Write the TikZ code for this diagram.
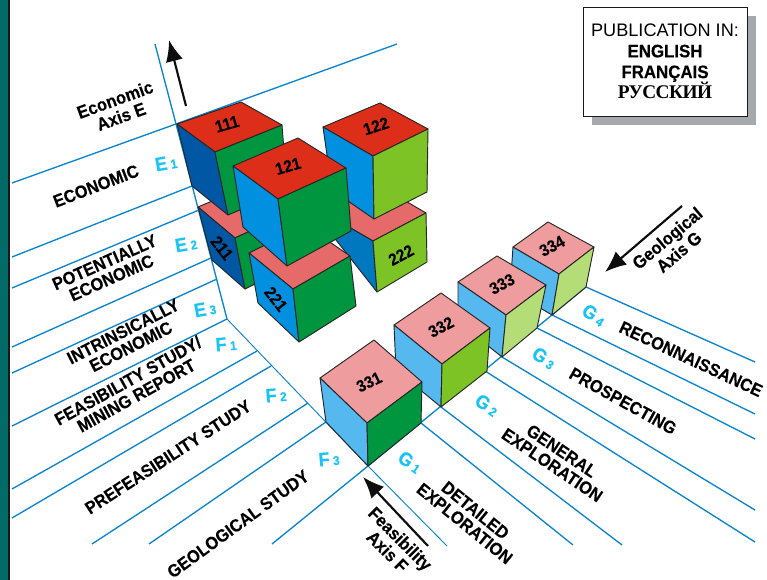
\documentclass[tikz,border=0pt]{standalone}
\usepackage{fontspec}
\setmainfont[BoldFeatures={FakeStretch=0.93,FakeBold=0.25}]{Liberation Sans}
\newfontfamily\rufont[LetterSpace=-3]{Liberation Serif}
\usetikzlibrary{arrows.meta,shadows}
\definecolor{teal}{HTML}{006B66}
\definecolor{gridblue}{HTML}{0A84D0}
\definecolor{labcyan}{HTML}{19C3F5}
\definecolor{redtop}{HTML}{DC2E18}
\definecolor{rosetop}{HTML}{E76A6A}
\definecolor{pinktop}{HTML}{EF9C9E}
\definecolor{deepside}{HTML}{0058A4}
\definecolor{midside}{HTML}{0078C0}
\definecolor{blueside}{HTML}{0090DF}
\definecolor{skyside}{HTML}{55B8EF}
\definecolor{greenside}{HTML}{009640}
\definecolor{limeside}{HTML}{7DC325}
\definecolor{paleside}{HTML}{B4DD78}
\definecolor{boxshadow}{HTML}{A6A9AB}
\tikzset{
 gridline/.style={gridblue,line width=1pt},
 axisline/.style={gridblue,line width=0.7pt},
 face/.style={draw=black!85,line width=0.7pt,line join=round},
 bigarrow/.style={black!95,line width=1.6pt,-{Latex[length=16pt,width=13pt]}},
 classlab/.style={font=\bfseries\fontsize{13.2}{12.8}\selectfont,align=center,black},
 axislab/.style={font=\bfseries\fontsize{13.4}{13.5}\selectfont,align=center,black},
 codelab/.style={font=\bfseries\fontsize{12.5}{12}\selectfont,black},
 levellab/.style={font=\fontsize{14.5}{14}\selectfont\bfseries,labcyan},
}
\newcommand{\lev}[2]{#1\kern2.5pt{\fontsize{9.5}{9}\selectfont #2}}
\begin{document}
\begin{tikzpicture}[x=0.75pt,y=-0.75pt]
 \useasboundingbox (0,0) rectangle (767,580);
 \fill [teal] (0,0) rectangle (8,580);
 \fill [black!90] (8,0) rectangle (10,580);
 % grid of the economic wall
 \draw [gridline] (155,44) -- (176,124);
 \draw [gridline] (12,183) -- (176,124) -- (397,44);
 \draw [gridline] (176,124) -- (227,319);
 \foreach \x/\y/\u/\v in {12/257/192/186, 12/288/199/210, 12/347/211/258, 12/373/217/279, 12/426/227/319}
  \draw [gridline] (\x,\y) -- (\u,\v);
 % grid of the feasibility wall
 \draw [axisline] (227,319) -- (368,466) -- (447,546);
 \foreach \x/\y/\u/\v in {12/489/257/351, 12/518/271/366, 92/544/308/403, 149/544/326/422, 272/544/368/466}
  \draw [gridline] (\x,\y) -- (\u,\v);
 % grid of the geological floor
 \draw [gridline] (368,466) -- (586,287);
 \foreach \x/\y/\u/\v in {586/287/755/362, 552/315/755/414, 537/328/755/439, 502/357/755/510, 485/371/755/542, 441/407/622/545, 421/423/573/545}
  \draw [gridline] (\x,\y) -- (\u,\v);
 % cube 211
 \draw [face,fill=rosetop] (198,207) -- (262,180) -- (300,208) -- (235,238) -- cycle;
 \draw [face,fill=deepside] (198,207) -- (235,238) -- (245,289) -- (212,260) -- cycle;
 \draw [face,fill=greenside] (235,238) -- (300,208) -- (303,260) -- (245,289) -- cycle;
 % cube 111
 \draw [face,fill=redtop] (177,124) -- (241,102) -- (282,125) -- (215,152) -- cycle;
 \draw [face,fill=deepside] (177,124) -- (215,152) -- (228,215) -- (192,186) -- cycle;
 \draw [face,fill=greenside] (215,152) -- (282,125) -- (287,190) -- (228,215) -- cycle;
 % cube 222
 \draw [face,fill=rosetop] (323,212) -- (380,186) -- (426,213) -- (373,241) -- cycle;
 \draw [face,fill=midside] (323,212) -- (373,241) -- (377,292) -- (336,240) -- cycle;
 \draw [face,fill=limeside] (373,241) -- (426,213) -- (427,262) -- (377,292) -- cycle;
 % cube 122
 \draw [face,fill=redtop] (323,127) -- (380,103) -- (428,129) -- (373,156) -- cycle;
 \draw [face,fill=blueside] (323,127) -- (373,156) -- (374,219) -- (332,190) -- cycle;
 \draw [face,fill=limeside] (373,156) -- (428,129) -- (427,192) -- (374,219) -- cycle;
 % cube 221
 \draw [face,fill=rosetop] (249,253) -- (305,225) -- (350,256) -- (293,289) -- cycle;
 \draw [face,fill=blueside] (249,253) -- (293,289) -- (299,342) -- (258,303) -- cycle;
 \draw [face,fill=greenside] (293,289) -- (350,256) -- (356,306) -- (299,342) -- cycle;
 % cube 121
 \draw [face,fill=redtop] (233,166) -- (298,138) -- (346,168) -- (278,199) -- cycle;
 \draw [face,fill=blueside] (233,166) -- (278,199) -- (287,266) -- (243,227) -- cycle;
 \draw [face,fill=greenside] (278,199) -- (346,168) -- (351,231) -- (287,266) -- cycle;
 % cube 334
 \draw [face,fill=pinktop] (513,247) -- (548,222) -- (594,247) -- (559,274) -- cycle;
 \draw [face,fill=skyside] (513,247) -- (559,274) -- (552,315) -- (510,290) -- cycle;
 \draw [face,fill=paleside] (559,274) -- (594,247) -- (586,287) -- (552,315) -- cycle;
 % cube 333
 \draw [face,fill=pinktop] (458,282) -- (497,256) -- (546,285) -- (506,315) -- cycle;
 \draw [face,fill=skyside] (458,282) -- (506,315) -- (502,357) -- (458,322) -- cycle;
 \draw [face,fill=paleside] (506,315) -- (546,285) -- (537,328) -- (502,357) -- cycle;
 % cube 332
 \draw [face,fill=pinktop] (394,325) -- (441,293) -- (490,328) -- (442,364) -- cycle;
 \draw [face,fill=skyside] (394,325) -- (442,364) -- (441,407) -- (396,370) -- cycle;
 \draw [face,fill=limeside] (442,364) -- (490,328) -- (487,371) -- (441,407) -- cycle;
 % cube 331
 \draw [face,fill=pinktop] (320,378) -- (374,340) -- (422,382) -- (367,423) -- cycle;
 \draw [face,fill=skyside] (320,378) -- (367,423) -- (368,466) -- (326,422) -- cycle;
 \draw [face,fill=greenside] (367,423) -- (422,382) -- (421,423) -- (368,466) -- cycle;
 % cube numbers
 \node [codelab,rotate=16] (c111) at (227,124) {111};
 \node [codelab,rotate=16] (c121) at (288,166) {121};
 \node [codelab,rotate=18] (c122) at (376,126) {122};
 \node [codelab,rotate=-52] (c211) at (222,248) {211};
 \node [codelab,rotate=-52] (c221) at (276,299) {221};
 \node [codelab,rotate=28] (c222) at (401,255) {222};
 \node [codelab,rotate=26] (c331) at (369,382) {331};
 \node [codelab,rotate=28] (c332) at (441,327) {332};
 \node [codelab,rotate=28] (c333) at (502,284) {333};
 \node [codelab,rotate=28] (c334) at (552,246) {334};
 % axis arrows
 \coordinate (etail) at (186,106);
 \coordinate (ehead) at (169,40);
 \coordinate (ftail) at (428,546);
 \coordinate (fhead) at (363,477);
 \coordinate (gtail) at (682,206);
 \coordinate (ghead) at (605,272);
 \draw [bigarrow] (etail) -- (ehead);
 \draw [bigarrow] (ftail) -- (fhead);
 \draw [bigarrow] (gtail) -- (ghead);
 \node [axislab,rotate=20] (eaxis) at (118,108) {Economic\\Axis E};
 \node [axislab,rotate=-45] (faxis) at (394,545) {Feasibility\\Axis F};
 \node [axislab,rotate=40] (gaxis) at (673,245) {Geological\\Axis G};
 % category labels
 \node [classlab,rotate=21] (economic) at (96,186) {ECONOMIC};
 \node [classlab,rotate=24] (potential) at (108,270) {POTENTIALLY\\ECONOMIC};
 \node [classlab,rotate=27] (intrinsic) at (127,339) {INTRINSICALLY\\ECONOMIC};
 \node [classlab,rotate=29] (feasrep) at (132,388) {FEASIBILITY STUDY/\\MINING REPORT};
 \node [classlab,rotate=33] (prefeas) at (168,457) {PREFEASIBILITY STUDY};
 \node [classlab,rotate=36] (geostudy) at (238,524) {GEOLOGICAL STUDY};
 \node [classlab,rotate=-39] (detailed) at (470,517) {DETAILED\\EXPLORATION};
 \node [classlab,rotate=-34] (general) at (557,458) {GENERAL\\EXPLORATION};
 \node [classlab,rotate=-29] (prospect) at (623,401) {PROSPECTING};
 \node [classlab,rotate=-25] (reconn) at (691,359) {RECONNAISSANCE};
 % level labels
 \node [levellab,rotate=10] (e1) at (166,163) {\lev{E}{1}};
 \node [levellab,rotate=10] (e2) at (186,244) {\lev{E}{2}};
 \node [levellab,rotate=10] (e3) at (205,309) {\lev{E}{3}};
 \node [levellab,rotate=5] (f1) at (226,344) {\lev{F}{1}};
 \node [levellab,rotate=5] (f2) at (276,395) {\lev{F}{2}};
 \node [levellab,rotate=5] (f3) at (329,459) {\lev{F}{3}};
 \node [levellab,rotate=-35] (g1) at (410,462) {\lev{G}{1}};
 \node [levellab,rotate=-35] (g2) at (487,405) {\lev{G}{2}};
 \node [levellab,rotate=-35] (g3) at (544,358) {\lev{G}{3}};
 \node [levellab,rotate=-35] (g4) at (594,315) {\lev{G}{4}};
 % publication box
 \node [draw=black!90,line width=0.6pt,fill=white,align=center,inner sep=0pt,
  minimum width=123pt,minimum height=81.75pt,
  drop shadow={shadow xshift=6.5pt,shadow yshift=-6.5pt,fill=boxshadow,opacity=1},
  font=\fontsize{13.6}{15.6}\selectfont] (pubbox) at (665,61.5)
  {PUBLICATION IN:\\ \textbf{ENGLISH}\\ \textbf{FRANÇAIS}\\ {\rufont\bfseries\fontsize{14.5}{15.6}\selectfont РУССКИЙ}};
\end{tikzpicture}
\end{document}
